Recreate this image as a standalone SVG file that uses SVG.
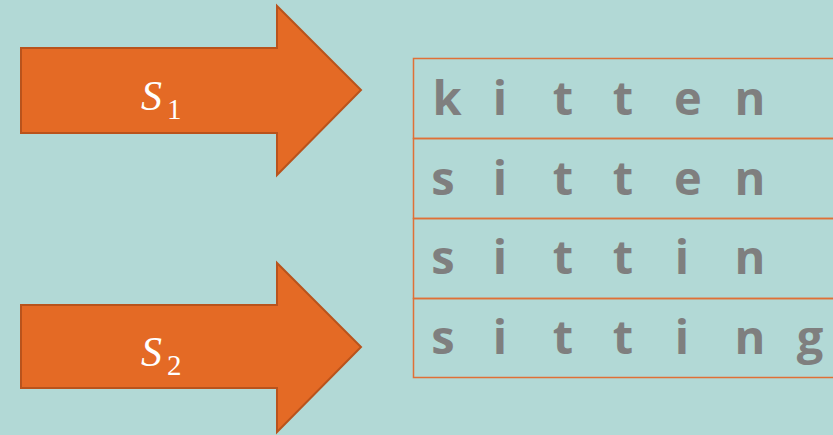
<svg xmlns="http://www.w3.org/2000/svg" width="833" height="435" viewBox="0 0 833 435">
<style>
.arrow{fill:#E46A25;stroke:#B9531C;stroke-width:2}
.lbl{font-family:"Liberation Serif",serif;font-style:italic;fill:#FFFFFF}
.sub{font-family:"Liberation Serif",serif;fill:#FFFFFF}
.row{fill:none;stroke:#E07037;stroke-width:1.5}
.ch{font-family:"Open Sans","Noto Sans",sans-serif;font-weight:bold;font-size:47px;fill:#7F7F7F;text-anchor:middle}
</style>
<rect width="833" height="435" fill="#B2D9D6"/>
<g id="arrow1">
<polygon class="arrow" points="21,48 277,48 277,6 361,90 277,175 277,133 21,133"/>
<text class="lbl" x="141" y="110" font-size="42">S</text>
<text class="sub" x="167" y="119" font-size="29">1</text>
</g>
<g id="arrow2">
<polygon class="arrow" points="21,305 277,305 277,263 361,347 277,432 277,388 21,388"/>
<text class="lbl" x="141" y="366" font-size="42">S</text>
<text class="sub" x="167" y="375" font-size="29">2</text>
</g>
<g id="table">
<rect class="row" x="413.5" y="58.5" width="430" height="80"/>
<rect class="row" x="413.5" y="138.5" width="430" height="80"/>
<rect class="row" x="413.5" y="218.5" width="430" height="80"/>
<rect class="row" x="413.5" y="298.5" width="430" height="79"/>
</g>
<g id="row1">
<text class="ch" y="115"><tspan x="447">k</tspan><tspan x="500">i</tspan><tspan x="563">t</tspan><tspan x="623">t</tspan><tspan x="688">e</tspan><tspan x="750">n</tspan></text>
</g>
<g id="row2">
<text class="ch" y="195"><tspan x="443">s</tspan><tspan x="500">i</tspan><tspan x="563">t</tspan><tspan x="623">t</tspan><tspan x="688">e</tspan><tspan x="750">n</tspan></text>
</g>
<g id="row3">
<text class="ch" y="274"><tspan x="443">s</tspan><tspan x="500">i</tspan><tspan x="563">t</tspan><tspan x="623">t</tspan><tspan x="682">i</tspan><tspan x="750">n</tspan></text>
</g>
<g id="row4">
<text class="ch" y="354"><tspan x="443">s</tspan><tspan x="500">i</tspan><tspan x="563">t</tspan><tspan x="623">t</tspan><tspan x="682">i</tspan><tspan x="750">n</tspan><tspan x="810">g</tspan></text>
</g>
</svg>
